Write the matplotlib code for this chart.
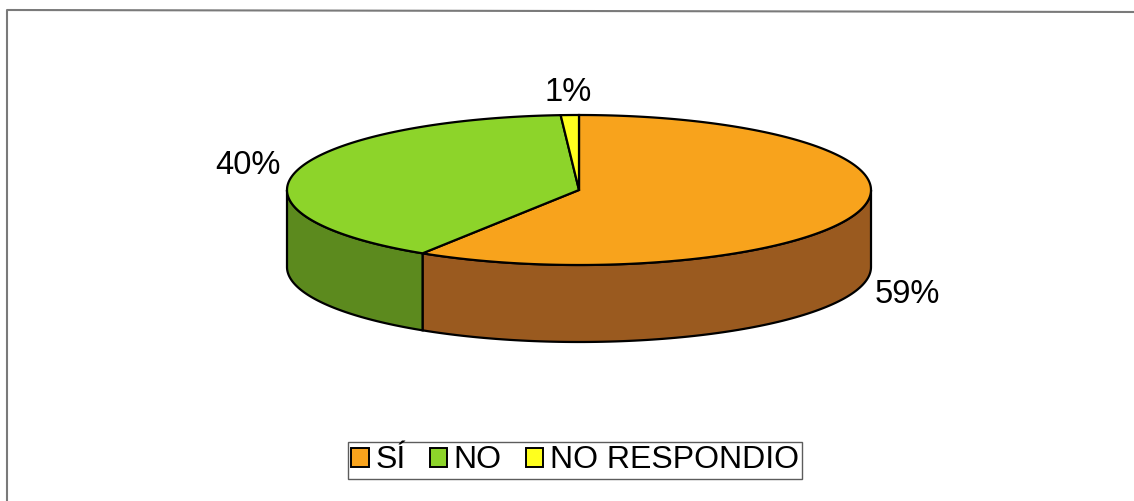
import numpy as np
import matplotlib
matplotlib.use("Agg")
import matplotlib.pyplot as plt
from matplotlib.patches import Polygon, Patch

# data
labels = ["SÍ", "NO", "NO RESPONDIO"]
values = [59, 40, 1]
top_colors = ["#F8A31C", "#8DD42A", "#FFFF1E"]
side_colors = ["#9A5A1F", "#5C8A1E", "#B8B800"]

# pie geometry (pixel units)
cx, cy = 579, 190
rx, ry = 292, 75
depth = 77

plt.rcParams["font.family"] = ["Liberation Sans", "DejaVu Sans"]

fig = plt.figure(figsize=(11.34, 5.01), dpi=100)
ax = fig.add_axes([0, 0, 1, 1])
ax.set_xlim(0, 1134)
ax.set_ylim(501, 0)
ax.axis("off")


def pt(t, dz=0.0):
    return cx + rx * np.cos(t), cy - ry * np.sin(t) + dz


fracs = np.array(values, dtype=float) / sum(values)
start = np.deg2rad(90)
slices = []
for f in fracs:
    end = start - f * 2 * np.pi
    slices.append((end, start))
    start = end

# side walls (front half only)
for (t1, t2), sc in zip(slices, side_colors):
    a, b = t1 % (2 * np.pi), t1 % (2 * np.pi) + (t2 - t1)
    segs = []
    for off in (-2 * np.pi, 0, 2 * np.pi):
        lo = max(a + off, np.pi)
        hi = min(b + off, 2 * np.pi)
        if hi > lo:
            segs.append((lo, hi))
    for lo, hi in segs:
        ts = np.linspace(lo, hi, 100)
        xs, ys = pt(ts)
        xb, yb = pt(ts[::-1], depth)
        poly = np.column_stack([np.r_[xs, xb], np.r_[ys, yb]])
        ax.add_patch(Polygon(poly, closed=True, facecolor=sc,
                             edgecolor="black", linewidth=1.6, zorder=2))

# top faces
for (t1, t2), tc in zip(slices, top_colors):
    ts = np.linspace(t1, t2, 200)
    xs, ys = pt(ts)
    poly = np.column_stack([np.r_[cx, xs], np.r_[cy, ys]])
    ax.add_patch(Polygon(poly, closed=True, facecolor=tc,
                         edgecolor="black", linewidth=1.6, zorder=3))

# percent labels
for (t1, t2), v in zip(slices, values):
    tm = (t1 + t2) / 2
    lx = cx + rx * 1.17 * np.cos(tm)
    ly = cy - ry * 1.3 * np.sin(tm) + (depth if np.sin(tm) < 0 else 0)
    ax.text(lx, ly, f"{v}%", fontsize=23.5, ha="center", va="center", zorder=4)

# outer frame
ax.plot([7, 7, 1134], [501, 10, 12], color="#7a7a7a", linewidth=1.5, zorder=1)

handles = [Patch(facecolor=c, edgecolor="black", linewidth=1.4) for c in top_colors]
leg = ax.legend(handles, labels, loc="center", bbox_to_anchor=(575 / 1134, 1 - 460.5 / 501),
                ncol=3, fontsize=23, frameon=True, fancybox=False,
                handlelength=0.55, handleheight=0.55, handletextpad=0.2,
                columnspacing=0.75, borderpad=0.1, borderaxespad=0)
leg.get_frame().set_edgecolor("#333333")
leg.get_frame().set_linewidth(1.0)

fig.savefig("out.png", dpi=100, facecolor="white")
